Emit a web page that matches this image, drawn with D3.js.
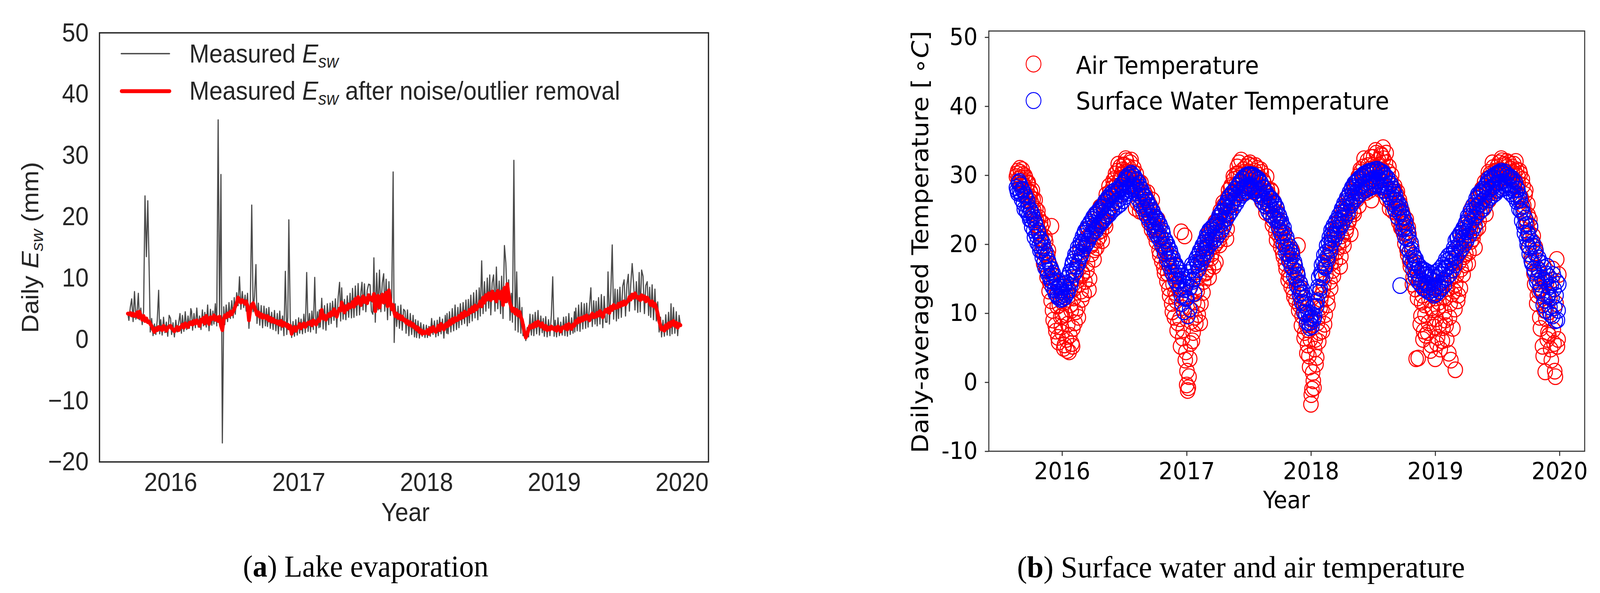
<!DOCTYPE html>
<html lang="en">
  <head>
    <meta charset="UTF-8" />
    <title>Lake evaporation and temperature</title>
    <script src="https://cdn.jsdelivr.net/npm/d3@7"></script>
    <style>
      html, body { margin: 0; padding: 0; background: #fff; overflow: hidden; }
      svg { display: block; width: 100vw; height: 100vh; }
    </style>
  </head>
  <body>
    <svg id="fig" viewBox="0 0 4419 1517" preserveAspectRatio="none"></svg>
    <script>
      // sampling days inside each month (values were read at these days)
      const gridDays = [1, 4, 8, 12, 16, 20, 24, 28];
      const gridDays2 = [2, 6, 10, 14, 18, 22, 26, 30];

      // (a) daily lake evaporation, Sep 2015 .. Dec 2019, one row per month
      const evapRaw = [
        4.2,3.1,5.2,6.6,2.9,7.8,3.3,5.0,
        7.5,3.2,5.1,2.4,4.6,23.4,13.5,22.6,
        11.2,1.2,3.4,0.6,2.5,0.8,3.1,8.0,
        0.9,3.2,0.7,3.6,1.1,2.8,0.5,3.9,
        3.4,0.8,2.7,0.4,3.1,1.2,2.6,4.2,
        1.0,3.9,1.3,4.5,1.6,3.8,1.8,5.0,
        4.6,1.5,4.2,1.9,5.1,2.0,3.8,1.6,
        4.8,2.2,4.4,2.0,5.6,1.4,4.9,2.3,
        4.6,2.5,5.8,2.2,35.8,3.0,26.9,-16.9,
        5.3,2.4,5.6,2.9,6.0,3.4,6.3,3.5,
        6.8,4.1,7.6,5.5,10.2,4.9,7.8,5.2,
        7.2,4.6,7.5,1.8,6.4,21.9,4.5,7.1,
        12.2,2.6,5.9,2.3,5.5,1.9,5.4,2.2,
        5.0,2.1,5.2,1.8,4.4,1.6,4.7,1.4,
        4.2,0.9,4.6,1.5,3.8,0.6,11.1,0.8,
        3.6,19.5,3.4,0.3,2.9,0.5,3.2,0.7,
        3.5,1.0,3.3,0.9,4.1,1.1,10.9,1.3,
        4.2,1.2,4.6,1.6,10.1,1.0,4.5,1.9,
        4.8,2.0,6.7,1.7,5.5,1.5,5.8,2.4,
        5.9,2.6,6.2,3.1,6.6,2.0,6.9,9.3,
        3.0,8.4,3.3,6.5,3.2,7.1,3.6,7.5,
        3.5,8.3,3.6,8.7,3.9,9.1,4.0,7.8,
        9.3,4.8,9.05,4.5,8.0,9.0,8.9,4.6,
        4.1,13.3,2.8,10.8,4.8,11.3,4.5,9.2,
        10.7,4.6,9.8,3.2,9.4,3.9,6.8,27.3,
        -0.5,5.8,2.1,5.4,1.8,5.6,1.5,4.9,
        4.6,1.0,4.8,0.6,4.2,0.8,3.9,0.4,
        3.2,0.3,3.0,0.2,2.7,0.5,2.4,0.3,
        2.3,0.3,2.1,0.5,3.4,0.8,3.0,0.4,
        3.1,0.6,3.6,0.9,3.3,0.2,3.9,1.0,
        4.2,0.9,4.5,1.2,5.0,1.4,5.6,1.6,
        5.2,1.9,5.8,2.4,6.0,2.6,6.4,2.2,
        6.5,2.7,7.2,3.0,7.6,3.5,8.0,3.2,
        8.4,3.8,12.8,4.2,9.4,4.6,10.0,5.1,
        10.5,4.0,9.2,10.5,4.6,11.8,5.0,9.5,
        4.2,10.3,3.4,15.3,12.5,6.0,9.7,3.1,
        7.5,2.8,29.2,1.5,11.0,1.2,6.8,1.0,
        5.2,0.6,2.4,-0.2,1.9,0.4,4.1,0.7,
        4.0,0.6,4.4,0.9,4.7,0.7,3.8,1.1,
        3.4,0.5,3.7,0.4,3.2,0.6,3.9,10.2,
        0.5,3.1,0.4,3.5,0.6,2.8,0.7,3.6,
        0.6,3.7,0.5,4.2,0.8,3.5,1.0,4.5,
        1.2,5.1,1.4,5.6,1.3,6.0,1.7,5.8,
        1.8,5.9,2.0,5.5,8.4,2.1,6.3,2.5,
        6.2,2.2,6.8,2.5,7.3,1.9,7.0,2.8,
        2.8,11.0,2.5,7.8,15.4,3.3,8.2,3.0,
        8.1,3.4,8.5,3.6,8.7,9.7,3.8,8.9,
        10.6,4.6,9.0,12.35,9.2,4.8,9.4,4.4,
        10.9,4.5,11.3,10.3,4.2,8.8,9.4,3.9,
        8.5,3.6,8.9,3.2,8.2,3.0,6.1,1.2,
        3.6,0.4,3.1,0.5,4.0,0.7,4.4,0.6,
        5.8,0.9,5.2,1.0,4.5,0.6,3.9,2.3
      ];
      const evapClean = [
        4.2,4.1,4.3,3.9,4.2,3.8,4.0,4.4,
        3.6,4.5,3.9,3.2,3.8,3.0,3.4,2.8,
        2.9,2.5,2.2,1.6,1.2,1.8,1.5,2.0,
        1.7,1.9,1.5,2.2,1.8,1.4,1.9,2.1,
        2.2,1.8,1.6,1.3,1.7,2.0,1.5,1.9,
        2.1,2.4,1.9,2.6,2.3,2.0,2.7,2.5,
        2.8,2.4,3.0,2.6,3.1,2.7,2.2,3.2,
        2.9,3.5,2.6,3.8,3.1,2.5,3.6,3.3,
        3.4,3.9,3.2,3.6,3.0,3.7,2.2,1.5,
        3.3,3.9,3.6,4.2,3.8,4.5,4.1,4.6,
        4.9,5.4,5.9,6.8,6.3,6.0,6.4,6.1,
        5.8,6.2,5.5,3.1,4.8,5.6,5.9,5.2,
        4.6,4.0,4.4,3.7,4.1,3.5,3.9,3.6,
        3.4,3.8,3.1,3.5,2.9,3.3,2.8,3.0,
        2.6,2.9,2.4,3.0,2.2,2.7,2.5,2.1,
        2.4,1.8,2.2,0.9,1.6,2.0,1.4,1.9,
        2.1,2.5,1.8,2.3,2.6,2.0,2.4,2.7,
        2.5,2.9,2.3,3.1,2.7,2.4,3.0,3.3,
        3.0,3.6,4.8,3.4,3.9,3.2,3.7,4.1,
        3.8,4.4,4.0,4.9,4.3,3.7,4.6,5.0,
        4.7,6.0,5.1,4.4,5.4,4.9,5.7,5.2,
        5.5,6.1,5.3,6.6,5.8,6.9,6.2,5.6,
        6.4,7.0,6.1,6.7,5.9,7.2,6.5,6.8,
        6.3,7.4,4.6,6.9,7.1,5.2,6.6,7.3,
        6.0,6.8,7.6,5.4,8.0,6.2,4.9,5.6,
        4.4,3.8,4.2,3.5,3.9,3.3,3.7,3.1,
        3.2,2.7,3.0,2.4,2.8,2.2,2.5,1.9,
        2.1,1.6,1.9,1.2,1.5,0.9,1.3,1.0,
        1.1,1.5,0.9,1.8,1.3,2.0,1.6,1.2,
        1.7,2.2,1.5,2.5,2.0,1.6,2.4,2.1,
        2.6,2.2,3.0,2.5,3.3,2.8,3.5,3.1,
        3.2,3.8,3.4,4.2,3.6,4.5,3.9,4.3,
        4.1,4.8,4.4,5.2,4.6,5.5,4.9,5.3,
        5.6,6.2,5.4,6.8,6.0,7.2,6.5,7.5,
        7.0,6.4,7.8,6.7,7.4,6.2,7.9,7.1,
        6.6,7.8,5.6,8.4,6.2,9.0,7.3,5.9,
        5.2,4.6,5.0,4.2,4.8,3.9,4.5,3.6,
        3.2,2.4,1.2,0.3,0.8,1.6,2.2,1.9,
        2.4,2.0,2.7,2.2,2.9,2.5,2.1,2.6,
        2.0,1.7,2.2,1.5,1.9,1.6,2.1,1.8,
        1.6,1.9,1.4,2.1,1.7,1.3,1.9,2.0,
        1.8,2.3,1.6,2.5,2.0,1.7,2.4,2.2,
        2.5,3.0,2.7,3.4,2.9,3.5,3.1,3.7,
        3.3,3.9,3.5,3.1,3.8,4.2,3.6,4.0,
        3.7,4.3,3.9,4.6,4.1,3.6,4.4,4.8,
        4.5,5.0,4.3,5.3,4.8,5.6,5.1,5.4,
        5.2,5.8,5.4,6.0,5.6,6.2,5.7,6.1,
        6.3,6.9,6.5,7.3,6.8,7.5,7.0,6.7,
        6.9,6.4,7.2,6.6,7.0,6.2,6.8,6.4,
        6.0,5.6,6.2,5.4,5.8,5.1,4.2,3.0,
        2.2,1.6,1.9,1.4,2.3,1.8,2.6,2.1,
        2.8,2.4,3.0,2.2,2.7,1.9,2.5,2.3
      ];

      // (b) daily-averaged temperatures from 20 Aug 2015, read on gridDays
      const airTemp = [
        29.8,30.6,28.9,
        30.4,29.2,30.1,28.5,29.6,27.8,28.9,26.9,
        27.4,25.8,26.5,24.2,25.1,22.8,23.9,21.5,
        22.4,19.8,17.2,21.0,16.5,18.4,13.2,16.8,
        22.6,10.4,14.5,8.2,12.8,6.5,11.2,9.5,
        7.2,11.5,5.4,9.8,4.6,13.6,6.8,10.4,
        5.2,12.2,8.6,15.1,10.8,14.2,17.5,12.0,
        15.8,19.4,14.6,20.8,17.2,13.4,21.5,18.6,
        20.2,17.8,22.4,19.5,23.6,21.1,24.8,20.5,
        23.5,25.8,22.6,26.4,24.9,27.5,25.2,28.1,
        27.2,29.5,28.4,30.6,27.8,31.2,29.6,30.8,
        31.5,29.8,32.1,30.5,28.6,31.8,29.2,30.4,
        29.4,25.2,28.6,27.1,24.8,28.9,26.5,27.8,
        26.8,24.5,27.5,23.2,25.6,22.1,24.8,21.4,
        22.5,20.4,23.6,19.1,21.2,17.5,20.1,15.8,
        18.9,14.6,17.2,12.5,16.1,10.2,15.4,13.0,
        11.8,7.5,13.6,9.2,21.8,6.4,12.2,3.2,
        -0.4,-1.2,0.8,5.6,10.4,7.2,12.8,8.5,
        13.2,9.8,16.5,11.4,18.2,14.6,19.5,16.0,
        17.8,21.2,15.2,20.4,18.6,22.5,19.8,17.4,
        21.6,23.8,19.9,24.5,22.2,25.6,23.1,20.8,
        25.4,27.8,24.6,28.5,26.2,29.4,27.1,30.2,
        28.6,31.8,29.9,27.4,30.8,28.2,31.2,29.4,
        30.5,28.4,31.4,29.2,27.6,30.6,28.8,31.0,
        29.6,27.2,30.4,26.8,28.9,25.5,29.8,27.4,
        26.9,24.2,27.6,23.5,25.8,21.8,24.6,22.4,
        23.2,19.6,21.8,18.2,20.5,16.4,19.2,15.5,
        17.6,13.8,18.9,12.4,16.2,14.6,19.8,11.2,
        13.4,8.2,11.6,6.4,9.8,4.2,7.6,2.2,
        -3.2,-1.0,0.2,4.8,2.6,8.6,5.9,10.8,
        12.6,7.4,14.2,9.8,16.8,11.2,18.4,13.6,
        17.2,20.6,15.4,21.8,18.8,22.9,19.6,16.8,
        21.2,24.5,19.8,25.2,22.4,26.8,23.6,21.5,
        25.8,27.6,24.4,28.9,26.5,29.8,27.2,30.5,
        28.4,31.2,29.6,27.5,32.1,28.8,30.9,26.4,
        30.2,32.6,28.5,33.2,29.8,31.5,27.9,32.8,
        34.0,29.4,31.8,26.6,30.5,25.2,29.1,27.5,
        26.9,28.4,24.6,27.6,23.2,25.8,22.5,24.4,
        22.8,20.1,23.6,18.5,21.4,16.8,19.6,15.2,
        17.4,13.5,16.2,3.5,14.8,9.6,12.6,7.4,
        11.2,6.8,13.4,8.6,15.2,5.4,10.5,12.8,
        3.4,9.2,6.5,11.6,4.8,13.8,7.9,10.2,
        12.2,6.2,14.6,9.4,3.2,12.8,16.2,10.6,
        1.8,15.5,11.8,17.4,13.6,19.2,15.6,20.5,
        18.6,21.8,17.2,22.9,20.4,24.2,21.6,19.5,
        23.8,25.6,22.4,26.8,24.9,27.6,25.2,28.4,
        27.2,29.5,26.4,30.2,28.6,31.1,29.4,27.8,
        30.6,29.2,31.8,30.4,32.1,29.6,31.4,30.2,
        31.2,29.8,30.9,28.6,30.4,31.6,29.2,30.8,
        29.8,27.2,30.2,26.4,28.5,24.6,27.8,22.9,
        24.2,19.6,22.5,17.4,21.2,14.2,18.8,12.6,
        15.8,9.4,13.6,5.2,11.8,1.5,14.4,7.2,
        6.8,12.2,3.2,16.4,5.6,0.8,17.8,6.2
      ];
      const waterTemp = [
        28.2,27.4,29.1,
        28.6,26.5,27.8,25.1,26.9,24.6,25.5,23.6,
        24.8,22.5,23.9,21.0,22.7,20.2,21.6,19.1,
        20.6,18.1,19.5,16.6,18.3,15.7,17.2,14.8,
        16.4,13.8,15.3,12.9,14.5,12.3,13.8,12.0,
        13.4,12.1,14.2,12.7,15.1,13.3,16.0,14.6,
        17.4,15.6,18.5,16.8,19.5,17.7,20.3,18.6,
        21.1,19.3,21.9,20.1,22.6,20.8,23.2,21.4,
        23.9,21.9,24.4,22.4,24.8,22.8,25.3,23.2,
        25.6,23.6,26.0,24.0,26.5,24.4,26.9,24.9,
        27.3,25.2,27.5,25.5,27.8,25.8,28.2,26.3,
        28.8,26.9,29.4,27.4,29.7,27.8,30.1,28.0,
        29.8,27.4,29.2,26.5,28.3,25.8,27.5,25.1,
        26.8,24.2,26.1,23.6,25.4,22.8,24.6,22.0,
        24.0,21.4,23.3,20.8,22.6,19.9,21.5,18.7,
        20.5,17.8,19.6,16.8,18.6,15.8,17.5,14.8,
        17.0,14.3,16.4,13.6,12.6,15.4,10.2,13.8,
        14.2,9.6,15.9,13.8,17.0,14.9,12.9,17.8,
        18.2,16.3,19.0,17.2,19.8,18.0,20.6,18.8,
        21.4,19.5,22.0,20.0,22.4,20.4,22.8,20.8,
        23.3,21.4,23.9,21.9,24.8,22.6,25.6,23.7,
        26.4,24.2,27.0,24.8,27.5,25.4,28.0,26.0,
        28.5,26.6,29.1,27.1,29.4,27.4,29.8,27.7,
        30.0,28.1,30.1,27.9,30.0,27.6,29.7,27.3,
        29.4,26.9,28.8,26.2,28.1,25.6,27.4,24.8,
        26.8,24.3,26.5,24.0,26.0,23.5,25.1,22.4,
        24.0,21.6,22.9,20.1,21.6,18.7,20.4,17.6,
        19.6,16.8,18.3,15.4,16.9,14.0,15.5,12.7,
        14.3,11.6,12.9,10.1,11.4,8.7,10.1,7.9,
        9.4,8.1,10.9,9.6,13.1,11.8,15.2,13.6,
        17.0,15.1,18.4,16.6,19.8,17.9,21.0,19.1,
        22.0,20.2,22.7,20.7,23.4,21.5,24.2,22.4,
        25.1,23.0,25.9,23.8,26.7,24.5,27.5,25.6,
        28.2,26.1,28.8,26.6,29.2,27.0,29.6,27.4,
        29.9,27.7,30.1,27.9,30.3,28.1,30.5,28.3,
        30.6,28.4,30.5,28.6,30.8,28.5,30.6,28.3,
        30.4,27.8,29.9,27.3,29.4,26.8,28.7,25.9,
        27.6,25.1,26.4,24.0,25.3,14.0,24.7,22.2,
        23.8,21.0,22.6,19.4,20.9,17.8,19.2,16.3,
        18.0,15.2,17.3,14.6,16.8,14.1,16.4,13.6,
        16.2,13.4,16.0,13.1,15.8,12.9,15.6,12.6,
        15.9,12.8,16.1,13.2,16.5,13.6,17.0,14.1,
        17.8,15.2,18.3,15.6,18.6,16.3,19.4,17.0,
        20.5,18.2,21.0,18.8,21.6,19.4,22.3,20.0,
        23.1,20.6,23.7,21.3,24.4,22.0,25.0,22.7,
        26.6,24.3,27.0,24.7,27.4,25.1,27.8,25.6,
        28.8,26.4,29.1,26.8,29.4,27.1,29.6,27.4,
        30.1,27.8,30.3,28.0,30.4,28.1,30.5,28.2,
        30.0,27.7,29.8,27.3,29.5,26.9,29.0,26.2,
        27.9,25.1,26.4,23.4,24.6,21.6,22.8,19.9,
        21.4,18.6,22.6,17.2,20.1,16.0,19.1,15.1,
        18.0,14.2,17.3,12.9,16.6,11.9,15.7,12.4,
        15.3,10.9,14.1,9.6,13.5,8.9,14.6,10.4
      ];

      // (b) same series read on the in-between days (gridDays2), from 22 Aug 2015
      const airTemp2 = [
        30.2,29.4,31.0,
        29.6,30.8,28.4,29.9,27.2,28.8,26.4,27.6,
        26.2,27.8,24.9,26.4,23.5,24.8,21.9,23.2,
        20.8,23.0,18.6,20.4,15.2,19.1,14.4,11.8,
        15.6,9.0,13.4,7.4,11.0,5.8,14.2,8.0,
        9.6,4.9,12.4,6.2,8.4,4.4,11.2,5.6,
        7.8,13.6,10.2,16.4,9.4,18.8,13.2,15.6,
        18.2,12.8,20.0,16.2,22.2,15.0,19.8,21.4,
        22.6,19.2,24.2,20.6,21.8,25.4,22.0,23.8,
        25.6,23.2,27.2,24.4,28.4,26.0,27.0,29.2,
        28.8,30.2,27.0,31.6,29.2,30.0,28.2,31.4,
        30.4,32.4,29.4,31.2,30.0,32.2,28.4,31.0,
        28.2,30.2,26.0,29.0,25.6,27.6,24.6,26.8,
        27.2,25.0,26.2,24.0,23.6,26.4,22.6,23.8,
        23.8,21.4,22.4,18.4,20.8,19.6,16.6,18.6,
        17.4,15.8,13.6,18.2,11.4,14.2,9.4,16.8,
        12.6,8.6,14.8,5.2,10.8,7.6,21.2,4.4,
        1.6,-0.8,3.4,8.8,6.0,11.6,9.4,13.8,
        11.2,15.4,8.6,17.4,13.0,20.2,15.8,18.4,
        19.6,16.4,22.0,18.0,21.0,16.8,23.2,20.2,
        22.8,20.6,24.8,21.4,26.0,23.6,24.2,22.2,
        26.8,24.4,28.2,25.8,29.8,27.4,28.6,31.2,
        30.2,28.0,32.2,29.0,30.4,27.6,29.8,31.6,
        29.2,31.8,28.2,30.2,29.0,31.4,27.8,30.0,
        28.4,30.8,26.2,29.2,27.6,24.6,28.0,26.0,
        25.8,27.8,22.8,26.2,24.4,20.6,23.4,21.2,
        22.0,20.4,18.8,21.6,17.2,19.8,14.8,17.8,
        15.2,19.2,13.2,17.0,11.8,15.6,10.4,13.8,
        12.2,9.6,10.2,7.2,8.4,5.4,3.8,6.2,
        -1.8,1.4,-0.8,6.2,3.6,9.4,7.2,12.0,
        10.6,13.4,8.4,15.6,12.2,17.6,14.6,19.2,
        18.4,16.2,21.2,17.6,22.2,20.2,23.4,18.2,
        22.8,20.6,24.2,21.8,25.8,23.2,24.6,26.4,
        26.8,24.8,28.2,27.0,29.4,25.6,30.8,28.4,
        29.8,32.4,28.2,30.4,31.4,27.8,32.6,29.6,
        31.4,28.8,33.6,30.6,32.2,29.2,33.0,30.8,
        32.4,28.2,33.2,27.8,31.2,26.2,30.0,24.8,
        28.0,25.6,27.2,23.8,26.4,22.4,24.8,21.6,
        23.2,21.6,19.2,22.4,17.6,20.2,14.2,17.0,
        15.6,3.4,12.2,14.6,8.4,11.6,6.2,13.8,
        9.8,14.4,7.2,12.0,4.6,10.8,13.8,8.0,
        12.2,5.6,10.8,8.4,14.6,6.0,12.4,9.0,
        8.2,13.6,4.2,11.4,15.2,7.8,13.2,17.6,
        14.2,18.0,12.6,19.6,16.4,21.2,18.2,17.0,
        20.2,23.0,18.8,22.2,25.2,20.8,23.6,22.0,
        24.8,26.6,23.4,25.8,28.0,26.2,29.0,24.4,
        28.0,30.4,27.4,29.0,31.8,28.4,30.6,29.0,
        31.2,29.6,30.8,32.4,29.8,31.6,30.2,32.0,
        30.2,31.8,29.6,31.2,29.4,30.6,32.0,28.4,
        28.8,30.6,26.8,29.4,25.6,27.2,23.4,25.8,
        21.8,23.6,18.2,20.4,15.8,19.6,11.4,16.4,
        13.2,7.8,15.0,3.8,10.4,9.2,6.2,12.6,
        10.2,4.8,14.8,7.6,1.6,11.4,5.2,15.6
      ];
      const waterTemp2 = [
        27.8,28.9,27.6,
        27.3,28.0,25.9,27.2,25.0,26.3,24.2,25.0,
        23.6,24.4,22.0,23.2,21.3,22.0,19.8,20.7,
        19.1,20.2,17.5,18.9,16.2,17.6,15.3,16.3,
        14.6,15.8,13.4,14.7,12.6,13.9,12.4,13.1,
        12.6,13.8,12.3,14.4,13.0,15.6,14.0,16.9,
        16.2,17.9,16.0,18.8,17.2,19.6,18.3,20.2,
        20.0,21.6,19.8,22.2,20.4,22.9,21.2,23.6,
        22.6,24.2,22.0,24.6,22.9,25.0,23.4,25.4,
        24.6,26.2,24.2,26.7,24.8,27.2,25.4,27.6,
        26.0,27.8,26.2,28.0,26.6,28.6,27.2,29.0,
        27.6,29.6,28.0,30.0,28.4,30.3,28.6,29.8,
        28.4,29.4,27.8,28.8,26.9,27.9,26.1,27.0,
        25.4,26.4,24.6,25.6,23.9,24.9,23.2,23.9,
        22.2,23.6,21.6,22.9,21.0,22.0,19.8,20.6,
        19.0,20.0,17.9,19.1,16.9,18.0,15.9,16.9,
        15.4,16.4,14.6,15.8,11.4,14.9,13.4,12.1,
        12.2,15.2,10.6,16.3,14.6,16.8,15.6,17.4,
        17.0,18.6,17.8,19.4,18.6,20.2,19.4,20.9,
        20.2,21.7,20.6,22.2,21.0,22.6,21.6,23.1,
        22.4,24.1,22.8,24.6,23.4,25.4,24.4,26.0,
        25.2,26.8,25.6,27.4,26.2,27.9,26.8,28.4,
        27.4,29.0,27.8,29.5,28.2,29.9,28.4,30.1,
        28.6,30.0,28.4,29.8,28.2,29.6,27.9,29.4,
        27.9,29.0,27.2,28.2,26.6,27.4,25.8,26.8,
        25.6,26.6,25.0,25.9,24.4,25.4,23.6,24.2,
        22.8,23.4,21.2,22.4,19.6,21.0,18.6,19.2,
        18.0,18.8,16.4,17.4,15.0,16.0,13.6,14.4,
        13.0,13.6,11.2,12.2,9.8,10.8,8.6,9.2,
        8.7,9.8,9.2,11.6,11.0,13.8,13.0,15.8,
        15.6,17.4,16.8,18.8,18.2,20.2,19.4,21.4,
        20.8,22.2,21.4,23.0,22.0,23.6,22.8,24.6,
        23.8,25.4,24.6,26.2,25.2,27.0,26.0,27.9,
        26.8,28.4,27.4,29.0,27.8,29.4,28.2,29.8,
        28.6,30.2,28.8,30.4,29.0,30.6,29.2,30.6,
        29.4,30.8,29.2,30.9,29.6,30.6,29.3,30.4,
        29.0,30.0,28.4,29.6,27.9,28.8,27.2,28.0,
        26.4,27.2,25.4,26.0,24.6,25.4,23.2,24.0,
        22.4,23.2,20.8,21.8,19.0,20.2,17.4,18.4,
        16.6,17.8,15.8,16.8,15.0,16.2,14.6,15.6,
        14.4,15.6,14.0,15.2,13.8,14.8,13.4,14.6,
        13.6,15.2,14.0,15.6,14.4,16.0,14.9,16.5,
        16.4,17.6,16.8,17.9,17.4,18.6,18.0,19.2,
        19.2,20.8,19.8,21.4,20.4,22.0,21.0,22.8,
        21.8,24.0,22.4,24.8,23.2,25.6,23.9,26.0,
        25.4,27.2,25.8,27.6,26.2,28.0,26.6,28.4,
        27.6,29.4,28.0,29.7,28.3,30.0,28.6,30.2,
        28.9,30.4,29.0,30.6,29.1,30.2,28.8,30.0,
        28.6,29.6,28.2,29.2,27.8,28.6,27.2,28.0,
        26.4,27.0,24.8,25.4,22.6,23.8,20.8,21.6,
        19.6,20.8,17.6,19.8,16.4,18.6,14.6,17.6,
        16.2,13.4,15.2,11.2,14.8,10.4,16.8,12.8,
        13.8,9.8,12.2,15.6,10.8,12.6,9.0,14.2
      ];

      const yTicksA = [-20, -10, 0, 10, 20, 30, 40, 50];
      const yTicksB = [-10, 0, 10, 20, 30, 40, 50];

      function monthGrid(days, year, month, nMonths) {
        const out = [];
        for (let i = 0; i < nMonths; i++) {
          days.forEach((d) => out.push(new Date(year, month + i, d)));
        }
        return out;
      }
      const evapDates = monthGrid(gridDays, 2015, 8, 52);
      // temperature series start late Aug 2015, so the first 5 slots are dropped
      const tempDates = monthGrid(gridDays, 2015, 7, 53).slice(5);
      const tempDates2 = monthGrid(gridDays2, 2015, 7, 53).slice(5);

      const fontA = "'Liberation Sans', Arial, sans-serif";
      const fontB = "'DejaVu Sans', sans-serif";
      const svg = d3.select("#fig");

      // ---------------- panel (a) ----------------
      const xA = d3.scaleTime()
        .domain([new Date(2015, 5, 12), new Date(2020, 2, 17)])
        .range([274.8, 1956.7]);
      const yA = d3.scaleLinear().domain([-20, 50]).range([1181.7, 84]);

      const lineA = d3.line()
        .defined((d) => d.v != null)
        .x((d) => xA(d.date))
        .y((d) => yA(d.v));

      svg.append("path")
        .attr("d", lineA(evapDates.map((date, i) => ({ date, v: evapRaw[i] }))))
        .attr("fill", "none")
        .attr("stroke", "#4a4a4a")
        .attr("stroke-width", 3.2)
        .attr("stroke-linejoin", "round");

      svg.append("path")
        .attr("d", lineA(evapDates.map((date, i) => ({ date, v: evapClean[i] }))))
        .attr("fill", "none")
        .attr("stroke", "#ff0000")
        .attr("stroke-width", 10)
        .attr("stroke-linejoin", "round")
        .attr("stroke-linecap", "round");

      svg.append("rect")
        .attr("x", xA.range()[0]).attr("y", yA.range()[1])
        .attr("width", xA.range()[1] - xA.range()[0])
        .attr("height", yA.range()[0] - yA.range()[1])
        .attr("fill", "none").attr("stroke", "#262626").attr("stroke-width", 3.5);

      svg.append("g")
        .attr("transform", `translate(0,${yA.range()[0]})`)
        .call(d3.axisBottom(xA).ticks(d3.timeYear.every(1))
          .tickFormat(d3.timeFormat("%Y")).tickSize(0).tickPadding(27))
        .call((g) => g.select(".domain").remove())
        .attr("font-size", 66).attr("font-family", fontA).attr("color", "#262626");

      svg.append("g")
        .attr("transform", `translate(${xA.range()[0]},0)`)
        .call(d3.axisLeft(yA).tickValues(yTicksA).tickSize(0).tickPadding(30))
        .call((g) => g.select(".domain").remove())
        .attr("font-size", 66).attr("font-family", fontA).attr("color", "#262626");

      const txtA = svg.append("g")
        .attr("font-family", fontA).attr("font-size", 66).attr("fill", "#262626");

      txtA.append("text").attr("x", 1120).attr("y", 1333)
        .attr("text-anchor", "middle").text("Year");

      const ylabA = txtA.append("text")
        .attr("transform", "translate(106,633) rotate(-90)")
        .attr("text-anchor", "middle");
      ylabA.append("tspan").text("Daily ");
      ylabA.append("tspan").attr("font-style", "italic").text("E");
      ylabA.append("tspan").attr("font-style", "italic").attr("font-size", 46).attr("dy", 13).text("sw");
      ylabA.append("tspan").attr("dy", -13).text(" (mm)");

      // legend (a)
      svg.append("line").attr("x1", 335).attr("x2", 468).attr("y1", 137.3).attr("y2", 137.3)
        .attr("stroke", "#4a4a4a").attr("stroke-width", 3.5).attr("stroke-linecap", "round");
      svg.append("line").attr("x1", 336).attr("x2", 468).attr("y1", 233.3).attr("y2", 233.3)
        .attr("stroke", "#ff0000").attr("stroke-width", 10).attr("stroke-linecap", "round");

      const legA = [
        { y: 160, tail: "" },
        { y: 255, tail: " after noise/outlier removal" }
      ];
      legA.forEach((l) => {
        const t = txtA.append("text").attr("x", 523).attr("y", l.y);
        t.append("tspan").text("Measured ");
        t.append("tspan").attr("font-style", "italic").text("E");
        t.append("tspan").attr("font-style", "italic").attr("font-size", 46).attr("dy", 13).text("sw");
        if (l.tail) t.append("tspan").attr("dy", -13).text(l.tail);
      });

      // ---------------- panel (b) ----------------
      const xB = d3.scaleTime()
        .domain([new Date(2015, 4, 31), new Date(2020, 2, 15)])
        .range([2731, 4376.7]);
      const yB = d3.scaleLinear().domain([-10, 50.9]).range([1154.3, 79.3]);

      const pairUp = (dates, values) =>
        dates.map((date, i) => ({ date, v: values[i] })).filter((d) => d.v != null);

      const series = [
        { points: pairUp(tempDates, airTemp).concat(pairUp(tempDates2, airTemp2)), color: "#ff0000" },
        { points: pairUp(tempDates, waterTemp).concat(pairUp(tempDates2, waterTemp2)), color: "#0000ff" }
      ];
      series.forEach((s) => {
        svg.append("g")
          .selectAll("circle")
          .data(s.points.sort((a, b) => a.date - b.date))
          .join("circle")
          .attr("cx", (d) => xB(d.date))
          .attr("cy", (d) => yB(d.v))
          .attr("r", 20)
          .attr("fill", "none")
          .attr("stroke", s.color)
          .attr("stroke-width", 2.9);
      });

      svg.append("rect")
        .attr("x", xB.range()[0]).attr("y", yB.range()[1])
        .attr("width", xB.range()[1] - xB.range()[0])
        .attr("height", yB.range()[0] - yB.range()[1])
        .attr("fill", "none").attr("stroke", "#333").attr("stroke-width", 2.8);

      const axB = [
        svg.append("g")
          .attr("transform", `translate(0,${yB.range()[0]})`)
          .call(d3.axisBottom(xB).ticks(d3.timeYear.every(1))
            .tickFormat(d3.timeFormat("%Y")).tickSize(12).tickPadding(16)),
        svg.append("g")
          .attr("transform", `translate(${xB.range()[0]},0)`)
          .call(d3.axisLeft(yB).tickValues(yTicksB).tickFormat((d) => String(d))
            .tickSize(11).tickPadding(20))
      ];
      axB.forEach((g) => {
        g.select(".domain").remove();
        g.attr("font-size", 61).attr("font-family", fontB).attr("color", "#333");
        g.selectAll(".tick line").attr("stroke-width", 2.8);
        g.selectAll(".tick text").attr("fill", "#000");
      });

      const txtB = svg.append("g")
        .attr("font-family", fontB).attr("fill", "#000");

      txtB.append("text").attr("x", 3553).attr("y", 1300)
        .attr("font-size", 61).attr("text-anchor", "middle").text("Year");

      const ylabB = txtB.append("text")
        .attr("transform", "translate(2563,619) rotate(-90)")
        .attr("font-size", 64).attr("text-anchor", "middle");
      ylabB.append("tspan").text("Daily-averaged Temperature [\u2009\u2218");
      ylabB.append("tspan").attr("font-style", "italic").text("C");
      ylabB.append("tspan").text("]");

      // legend (b)
      const legB = [
        { label: "Air Temperature", color: "#ff0000", cy: 163.7, y: 188.6 },
        { label: "Surface Water Temperature", color: "#0000ff", cy: 257.3, y: 280.5 }
      ];
      legB.forEach((l) => {
        svg.append("circle").attr("cx", 2854.5).attr("cy", l.cy).attr("r", 20.5)
          .attr("fill", "none").attr("stroke", l.color).attr("stroke-width", 2.4);
        txtB.append("text").attr("x", 2971.6).attr("y", l.y)
          .attr("font-size", 63).text(l.label);
      });

      // ---------------- captions ----------------
      const captions = [
        { x: 671, y: 1475, len: 678, tag: "a", text: ") Lake evaporation" },
        { x: 2809, y: 1477, len: 1237, tag: "b", text: ") Surface water and air temperature" }
      ];
      captions.forEach((c) => {
        const t = svg.append("text")
          .attr("x", c.x).attr("y", c.y)
          .attr("font-family", "'Liberation Serif', 'Times New Roman', serif")
          .attr("font-size", 78).attr("fill", "#000")
          .attr("textLength", c.len).attr("lengthAdjust", "spacingAndGlyphs");
        t.append("tspan").text("(");
        t.append("tspan").attr("font-weight", "bold").text(c.tag);
        t.append("tspan").text(c.text);
      });
    </script>
  </body>
</html>
